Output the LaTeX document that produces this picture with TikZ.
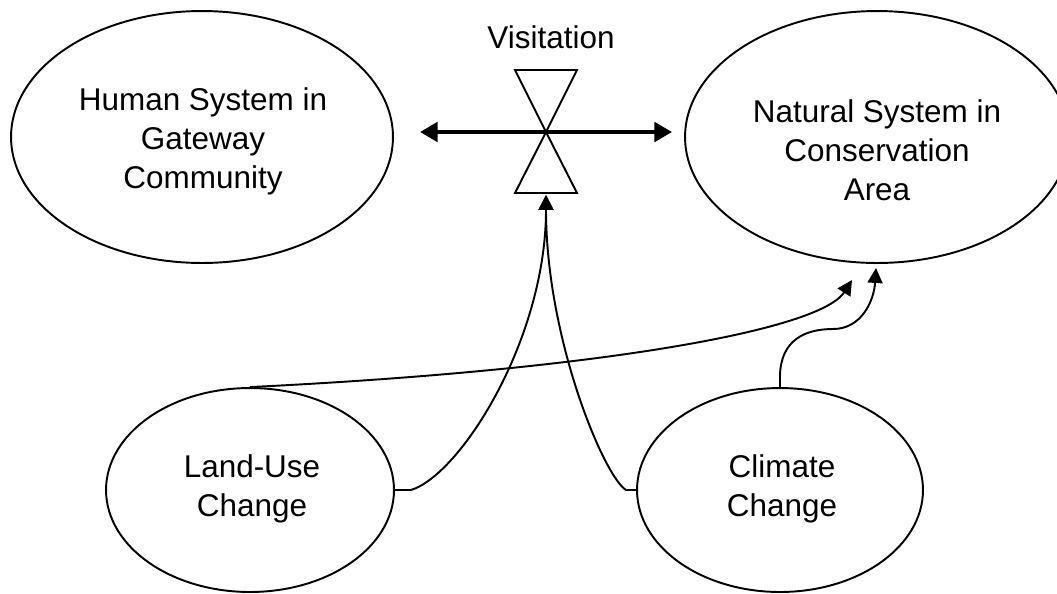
\documentclass[tikz,border=0pt]{standalone}
\usepackage{fontspec}
\setmainfont{Liberation Sans}
\usetikzlibrary{shapes.geometric,arrows.meta}

\begin{document}
\begin{tikzpicture}[
        x=0.02cm, y=-0.02cm,
        font=\fontsize{17.9}{22.2}\selectfont,
        sys/.style={ellipse, draw, line width=1.1pt, inner sep=0pt},
        lbl/.style={align=center, inner sep=0pt},
        link/.style={line width=1.1pt, -{Triangle[length=8.5pt, width=8.5pt]}},
        flow/.style={line width=2.3pt,
          {Triangle[length=10pt, width=11pt]}-{Triangle[length=10pt, width=11pt]}}
      ]
  \useasboundingbox (0,0) rectangle (1057,593);

  % the two systems -----------------------------------------
  \node[sys, minimum width=7.64cm, minimum height=5.04cm] (human) at (202,137) {};
  \node[sys, minimum width=7.68cm, minimum height=5.04cm] (natural) at (877,137) {};
  \node[lbl] (humantxt) at (203,141) {Human System in\\Gateway\\Community};
  \node[lbl] (naturaltxt) at (877,150) {Natural System in\\Conservation\\Area};

  % drivers -------------------------------------------------
  \node[sys, minimum width=5.76cm, minimum height=4.08cm] (landuse) at (250,490) {};
  \node[sys, minimum width=5.72cm, minimum height=4.08cm] (climate) at (780,490) {};
  \node[lbl] (landusetxt) at (252,489) {Land-Use\\Change};
  \node[lbl] (climatetxt) at (782,489) {Climate\\Change};

  % visitation valve ----------------------------------------
  \coordinate (valve) at (546,132);
  \coordinate (valvein) at (546,195);
  \draw[line width=1.1pt, line join=miter]
        (515,70) -- (577,70) -- (valve) -- cycle
        (valve) -- (515,193) -- (577,193) -- cycle;
  \node[anchor=base] (vistxt) at (551,48) {Visitation};
  \draw[flow] ([xshift=-126*0.02cm]valve) -- ([xshift=126*0.02cm]valve);

  % influences ----------------------------------------------
  \coordinate (natin1) at (852,280);
  \coordinate (natin2) at (876,268);
  \draw[link] (landuse.east) -- ++(16,0)
        .. controls (460,475) and (546,340) .. (valvein);
  \draw[link] (climate.west) -- ++(-10,0)
        .. controls (605,478) and (546,340) .. (valvein);
  \draw[link] (landuse.north)
        .. controls (600,370) and (820,330) .. (natin1);
  \draw[link] (climate.north) -- ++(0,-12)
        .. controls (781,340) and (805,329) .. (833,329)
        .. controls (862,329) and (874,300) .. (natin2);

\end{tikzpicture}
\end{document}
